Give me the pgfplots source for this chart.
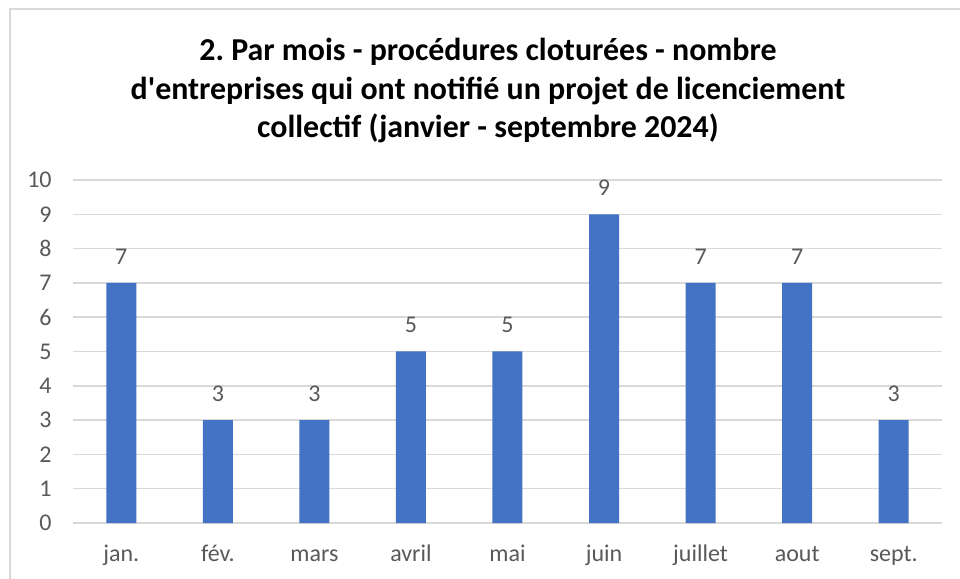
\documentclass[border=0pt]{standalone}
\usepackage{fontspec}
\setmainfont{Carlito}[Ligatures=TeXOff]
\usepackage{pgfplots}
\pgfplotsset{compat=1.18}
\definecolor{barblue}{HTML}{4472C4}
\definecolor{gridgray}{HTML}{D9D9D9}
\definecolor{labgray}{HTML}{595959}
\frenchspacing

\begin{document}
\begin{tikzpicture}
% chart frame (only left and top edges are in view)
\draw[gridgray, line width=1pt] (4.75pt,0) -- (4.75pt,284.75pt) -- (480pt,284.75pt);
\node[align=center, font=\bfseries\fontsize{15.95}{19.25}\selectfont] at (244pt,244pt)
  {2. Par mois - procédures cloturées - nombre\\d'entreprises qui ont notifié un projet de licenciement\\collectif (janvier - septembre 2024)};
\begin{axis}[
  at={(36.5pt,28pt)}, anchor=south west,
  scale only axis,
  width=434.5pt, height=171.5pt,
  ybar, bar width=15pt,
  xmin=-0.5, xmax=8.5,
  ymin=0, ymax=10,
  xtick=data,
  xticklabels={jan.,fév.,mars,avril,mai,juin,juillet,aout,sept.},
  ytick={0,1,...,10},
  axis x line*=bottom,
  axis y line*=left,
  x axis line style={gridgray, line width=0.75pt, -},
  y axis line style={draw=none},
  ymajorgrids,
  major grid style={gridgray, line width=0.75pt},
  major tick length=0pt,
  tick style={draw=none},
  /pgf/number format/assume math mode=true,
  ticklabel style={font=\fontsize{12}{14}\selectfont, text=labgray},
  xticklabel style={anchor=base, inner sep=0pt, yshift=-19.5pt},
  yticklabel style={anchor=east, inner sep=0pt, xshift=-10.5pt},
  nodes near coords,
  every node near coord/.append style={font=\fontsize{12}{14}\selectfont, text=labgray, anchor=south, inner sep=0pt, yshift=9pt},
  clip=false,
]
\addplot[fill=barblue, draw=none] coordinates {
  (0,7) (1,3) (2,3) (3,5) (4,5) (5,9) (6,7) (7,7) (8,3)};
\end{axis}
\pgfresetboundingbox
\useasboundingbox (0,0) rectangle (480pt,289.5pt);
\end{tikzpicture}
\end{document}
